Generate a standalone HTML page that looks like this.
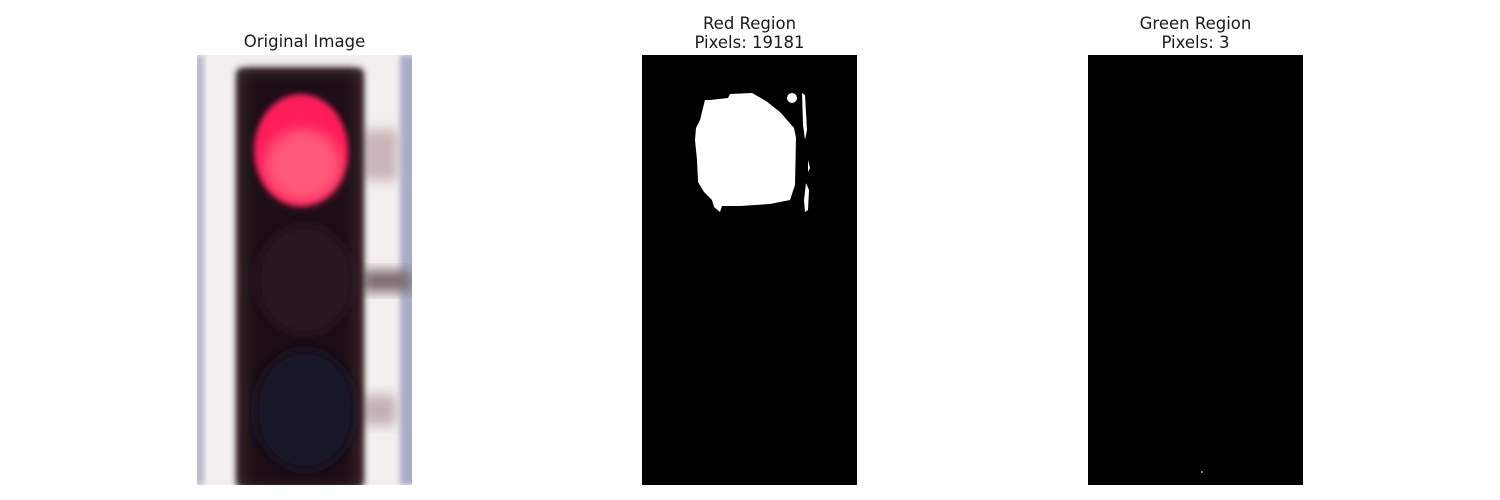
<!DOCTYPE html>
<html><head><meta charset="utf-8"><style>
html,body{margin:0;padding:0;background:#fff;}
svg{display:block;}
text{font-family:"DejaVu Sans","Liberation Sans",sans-serif;font-size:16.5px;fill:#1a1a1a;}
</style></head><body>
<svg width="1500" height="500" viewBox="0 0 1500 500">
<defs>
<filter id="b6" x="-30%" y="-30%" width="160%" height="160%"><feGaussianBlur stdDeviation="6"/></filter>
<filter id="b3" x="-30%" y="-30%" width="160%" height="160%"><feGaussianBlur stdDeviation="3"/></filter>
<clipPath id="c1"><rect x="197" y="55" width="215" height="430"/></clipPath>
</defs>

<!-- Panel 1 -->
<g>
<text x="304.5" y="47" text-anchor="middle">Original Image</text>
<g clip-path="url(#c1)">
<rect x="197" y="55" width="215" height="430" fill="#f4eeee"/>
<rect x="194" y="55" width="10" height="430" fill="#b8b8cc" filter="url(#b3)"/>
<rect x="400" y="55" width="18" height="430" fill="#a8acc8" filter="url(#b3)"/>
<rect x="362" y="130" width="36" height="50" fill="#c8b4b6" filter="url(#b6)"/>
<rect x="362" y="270" width="50" height="22" fill="#7a6a70" filter="url(#b6)"/>
<rect x="362" y="395" width="34" height="30" fill="#c0b0b6" filter="url(#b6)"/>
<rect x="236" y="68" width="128" height="420" rx="6" fill="#3a2a2c" filter="url(#b3)"/>
<rect x="244" y="72" width="112" height="416" fill="#1d0d14" filter="url(#b6)"/>
<ellipse cx="301" cy="150" rx="47" ry="56" fill="#ff1a5a" filter="url(#b3)"/>
<ellipse cx="303" cy="165" rx="38" ry="36" fill="#ff5878" filter="url(#b6)"/>
<ellipse cx="305" cy="280" rx="48" ry="55" fill="#2a1624" filter="url(#b6)"/>
<ellipse cx="305" cy="410" rx="50" ry="60" fill="#131826" filter="url(#b6)"/>
</g>
</g>

<!-- Panel 2 -->
<g>
<text x="749.5" y="29" text-anchor="middle">Red Region</text>
<text x="749.5" y="48" text-anchor="middle">Pixels: 19181</text>
<rect x="642" y="55" width="215" height="430" fill="#000"/>
<path d="M710,100 L728,98 L730,94 L752,93 L766,101 L780,112 L794,128 L796,138 L795,185 L790,200 L770,204 L740,206 L722,206 L720,212 L714,207 L712,200 L704,192 L698,182 L697,160 L695,140 L696,128 L700,120 L705,100 Z" fill="#fff"/>
<ellipse cx="792" cy="98" rx="5" ry="5" fill="#fff"/>
<path d="M802,93 L805,95 L807,130 L805,140 L803,125 Z" fill="#fff"/>
<path d="M808,160 L810,168 L808,172 Z" fill="#fff"/>
<path d="M806,183 L809,190 L808,210 L805,212 L804,200 Z" fill="#fff"/>
</g>

<!-- Panel 3 -->
<g>
<text x="1195.5" y="29" text-anchor="middle">Green Region</text>
<text x="1195.5" y="48" text-anchor="middle">Pixels: 3</text>
<rect x="1088" y="55" width="215" height="430" fill="#000"/>
<rect x="1201" y="471" width="2" height="2" fill="#888"/>
</g>
</svg>
</body></html>
